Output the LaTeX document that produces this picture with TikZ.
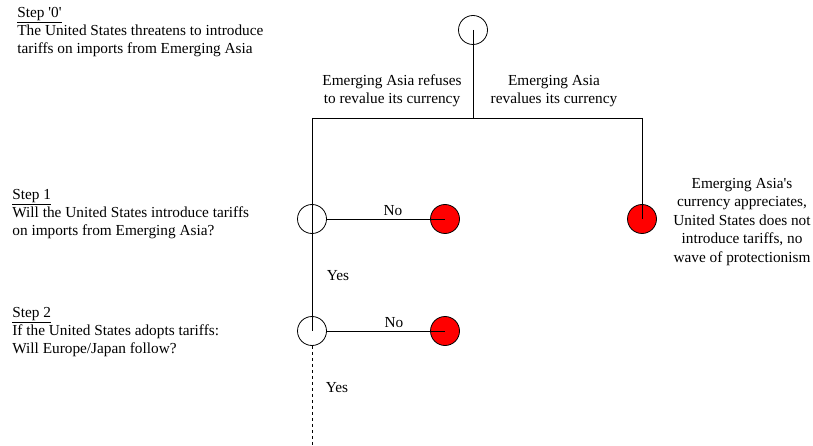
\documentclass[tikz,border=0pt]{standalone}
\usepackage{fontspec}
\setmainfont{Liberation Serif}
\usetikzlibrary{positioning}

\tikzset{
  choice/.style={circle, draw, line width=0.8pt, minimum size=29pt, inner sep=0pt},
  payoff/.style={circle, draw, line width=0.8pt, fill=red, minimum size=29pt, inner sep=0pt},
  steptext/.style={anchor=north west, align=left, inner sep=0pt, font=\fontsize{15.3}{18}\selectfont},
  branchtext/.style={align=center, inner sep=0pt, font=\fontsize{15.3}{18.5}\selectfont},
  answer/.style={inner sep=0pt, font=\fontsize{15.3}{18}\selectfont},
}

\begin{document}
\begin{tikzpicture}[x=1pt, y=-1pt, line width=0.8pt]
        \useasboundingbox (0,0) rectangle (813,446);
        \path
        (473,118) coordinate (top)
        (312,118) coordinate (left)
        (642,118) coordinate (right)
        (312,446) coordinate (bottom)
        ;
        % decision nodes
        \node[choice] (s0) at (473,30) {};
        \node[choice] (s1) at (312,219) {};
        \node[choice] (s2) at (312,331) {};
        \node[payoff] (r0) at (642,219) {};
        \node[payoff] (r1) at (445,219) {};
        \node[payoff] (r2) at (445,331) {};

        % tree
        \draw (s0.center) -- (top);
        \draw (left) -- (right);
        \draw (right) -- (r0.center);
        \draw (left) -- (s2.center);
        \draw[dashed] (s2.south) -- (bottom);
        \draw (s1.east) -- (r1.center);
        \draw (s2.east) -- (r2.center);

        \node[answer, anchor=south] (n1) at (393,216) {No};
        \node[answer, anchor=south] (n2) at (394,328) {No};
        \node[answer] (y1) at (338,276) {Yes};
        \node[answer] (y2) at (337,388) {Yes};

        \node[branchtext] (b1) at (392,91) {Emerging Asia refuses\\to revalue its currency};
        \node[branchtext] (b2) at (554,91) {Emerging Asia\\revalues its currency};
        \node[branchtext] (out) at (742,222)
          {Emerging Asia\textquotesingle s\\currency appreciates,\\United States does not\\introduce tariffs, no\\wave of protectionism};

        % step descriptions
        \node[steptext] (t0) at (17,7) {\underline{Step \textquotesingle 0\textquotesingle}\\The United States threatens to introduce\\tariffs on imports from Emerging Asia};
        \node[steptext] (t1) at (12,189) {\underline{Step 1}\\Will the United States introduce tariffs\\on imports from Emerging Asia?};
        \node[steptext] (t2) at (12,307) {\underline{Step 2}\\If the United States adopts tariffs:\\Will Europe/Japan follow?};
\end{tikzpicture}
\end{document}
